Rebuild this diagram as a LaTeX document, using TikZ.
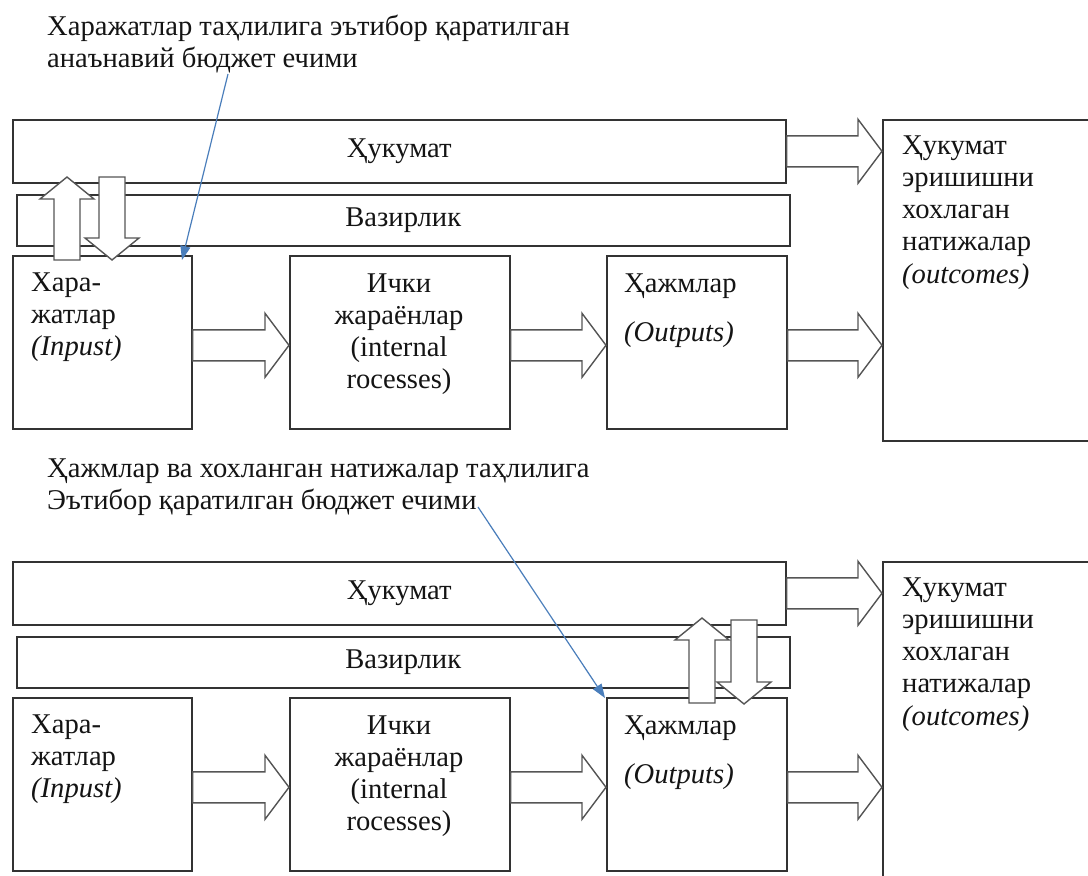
\documentclass[tikz,border=0pt]{standalone}
\usepackage{fontspec}
\setmainfont{Liberation Serif}
\usetikzlibrary{calc,arrows.meta}
\definecolor{boxc}{HTML}{333333}
\definecolor{arrc}{HTML}{555555}
\definecolor{bluec}{HTML}{4A7EBB}
\newcommand\leftlines[1]{\vtop{\halign{##\hfil\cr#1\crcr}}}
\newcommand\centerlines[1]{\vtop{\halign{\hfil##\hfil\cr#1\crcr}}}
% block arrow: start, tip, shaft half, head half, head length
\newcommand\bArrow[5]{%
  \draw[barrow] ($(#1)!#3!90:(#2)$) -- ($($(#2)!#5!(#1)$)!#3!90:(#2)$)
    -- ($($(#2)!#5!(#1)$)!#4!90:(#2)$) -- (#2)
    -- ($($(#2)!#5!(#1)$)!#4!-90:(#2)$) -- ($($(#2)!#5!(#1)$)!#3!-90:(#2)$)
    -- ($(#1)!#3!-90:(#2)$) -- cycle;}
\begin{document}
\begin{tikzpicture}[x=1pt,y=-1pt,
  every node/.style={font=\fontsize{28.6}{32.3}\selectfont, inner sep=0pt, text=black!92},
  box/.style={draw=boxc, line width=1.6pt, fill=white, anchor=north west},
  txt/.style={anchor=base west},
  barrow/.style={draw=arrc, line width=1.4pt, fill=white, line join=miter},
  note/.style={draw=bluec, line width=1.2pt, -{Triangle[length=14pt,width=10pt]}}]
\useasboundingbox (0,0) rectangle (1088,876);
\clip (0,0) rectangle (1088,876);
\fill[white] (0,0) rectangle (1088,876);

% ================= TOP SECTION =================
\node[txt] (cap1) at (47,35) {\leftlines{Харажатлар таҳлилига эътибор қаратилган\cr анаънавий бюджет ечими}};

\node[box, minimum width=773pt, minimum height=63pt] (huk1) at (12,119) {Ҳукумат};
\node[box, minimum width=773pt, minimum height=51pt] (vaz1) at (16,194) {Вазирлик};
\node[box, minimum width=179pt, minimum height=173pt] (xar1) at (12,255) {};
\node[box, minimum width=220pt, minimum height=173pt] (ich1) at (289,255) {};
\node[box, minimum width=180pt, minimum height=173pt] (haj1) at (606,255) {};
\node[box, minimum width=240pt, minimum height=321pt] (out1) at (882,119) {};

\node[txt] (xar1t) at (31,291) {\leftlines{Хара-\cr жатлар\cr \textit{(Inpust)}}};
\node[anchor=base] (ich1t) at (399,292) {\centerlines{Ички\cr жараёнлар\cr (internal\cr rocesses)}};
\node[txt] (haj1t) at (624,292) {\leftlines{Ҳажмлар\cr\noalign{\vskip17pt}\textit{(Outputs)}}};
\node[txt] (out1t) at (902,154) {\leftlines{Ҳукумат\cr эришишни\cr хохлаган\cr натижалар\cr \textit{(outcomes)}}};

\coordinate (a1) at ($(xar1.east)+(0,3)$);  \coordinate (b1) at (a1 -| ich1.west);
\coordinate (a2) at ($(ich1.east)+(0,3)$);  \coordinate (b2) at (a2 -| haj1.west);
\coordinate (a3) at ($(haj1.east)+(0,3)$);  \coordinate (b3) at (a3 -| out1.west);
\coordinate (a4) at (huk1.east);            \coordinate (b4) at (a4 -| out1.west);
\bArrow{a1}{b1}{15.5pt}{32pt}{24pt}
\bArrow{a2}{b2}{15.5pt}{32pt}{24pt}
\bArrow{a3}{b3}{15.5pt}{32pt}{24pt}
\bArrow{a4}{b4}{15.5pt}{32pt}{24pt}

\coordinate (u1s) at (67,260);  \coordinate (u1t) at (67,177);
\coordinate (d1s) at (112,177); \coordinate (d1t) at (112,260);
\bArrow{u1s}{u1t}{13pt}{27pt}{22pt}
\bArrow{d1s}{d1t}{13pt}{27pt}{22pt}

\coordinate (n1s) at (228,74); \coordinate (n1e) at (182,260);
\draw[note] (n1s) -- (n1e);

% ================= BOTTOM SECTION =================
\begin{scope}[yshift=-442pt]
\node[txt] (cap2) at (47,35) {\leftlines{Ҳажмлар ва хохланган натижалар таҳлилига\cr Эътибор қаратилган бюджет ечими}};

\node[box, minimum width=773pt, minimum height=63pt] (huk2) at (12,119) {Ҳукумат};
\node[box, minimum width=773pt, minimum height=51pt] (vaz2) at (16,194) {Вазирлик};
\node[box, minimum width=179pt, minimum height=173pt] (xar2) at (12,255) {};
\node[box, minimum width=220pt, minimum height=173pt] (ich2) at (289,255) {};
\node[box, minimum width=180pt, minimum height=173pt] (haj2) at (606,255) {};
\node[box, minimum width=240pt, minimum height=400pt] (out2) at (882,119) {};

\node[txt] (xar2t) at (31,291) {\leftlines{Хара-\cr жатлар\cr \textit{(Inpust)}}};
\node[anchor=base] (ich2t) at (399,292) {\centerlines{Ички\cr жараёнлар\cr (internal\cr rocesses)}};
\node[txt] (haj2t) at (624,292) {\leftlines{Ҳажмлар\cr\noalign{\vskip17pt}\textit{(Outputs)}}};
\node[txt] (out2t) at (902,154) {\leftlines{Ҳукумат\cr эришишни\cr хохлаган\cr натижалар\cr \textit{(outcomes)}}};

\coordinate (a5) at ($(xar2.east)+(0,3)$);  \coordinate (b5) at (a5 -| ich2.west);
\coordinate (a6) at ($(ich2.east)+(0,3)$);  \coordinate (b6) at (a6 -| haj2.west);
\coordinate (a7) at ($(haj2.east)+(0,3)$);  \coordinate (b7) at (a7 -| out2.west);
\coordinate (a8) at (huk2.east);            \coordinate (b8) at (a8 -| out2.west);
\bArrow{a5}{b5}{15.5pt}{32pt}{24pt}
\bArrow{a6}{b6}{15.5pt}{32pt}{24pt}
\bArrow{a7}{b7}{15.5pt}{32pt}{24pt}
\bArrow{a8}{b8}{15.5pt}{32pt}{24pt}

\coordinate (u2s) at (702,261); \coordinate (u2t) at (702,176);
\coordinate (d2s) at (744,178); \coordinate (d2t) at (744,262);
\bArrow{u2s}{u2t}{13pt}{27pt}{22pt}
\bArrow{d2s}{d2t}{13pt}{27pt}{22pt}

\coordinate (n2s) at (478,65); \coordinate (n2e) at (605,256);
\draw[note] (n2s) -- (n2e);
\end{scope}
\end{tikzpicture}
\end{document}
